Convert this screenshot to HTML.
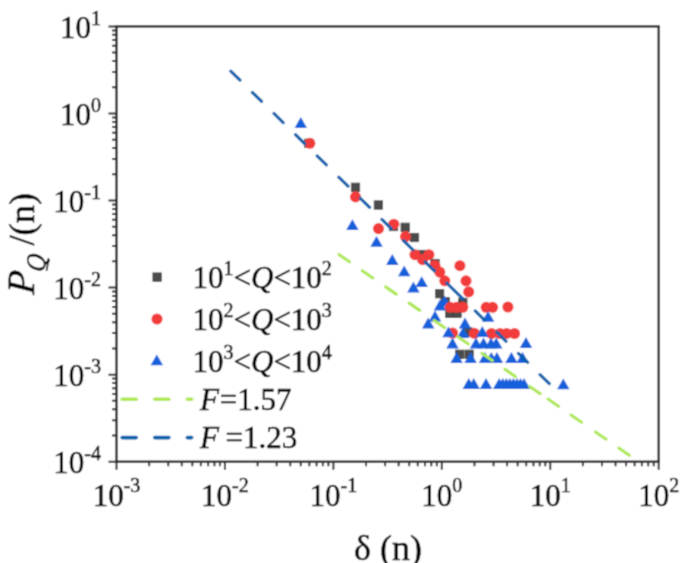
<!DOCTYPE html><html><head><meta charset="utf-8"><style>html,body{margin:0;padding:0;background:#fff;width:685px;height:563px;overflow:hidden}svg{display:block}text{font-family:"Liberation Serif",serif;fill:#000;stroke:#000;stroke-width:0.5px}</style></head><body>
<svg width="685" height="563" viewBox="0 0 685 563"><defs><filter id="bl" x="0" y="0" width="685" height="563" filterUnits="userSpaceOnUse"><feConvolveMatrix order="3" kernelMatrix="1 3 1 3 8 3 1 3 1" divisor="24" edgeMode="none"/></filter></defs><g filter="url(#bl)"><rect width="685" height="563" fill="#fff"/>
<rect x="116.5" y="26.4" width="542.2" height="435.3" fill="none" stroke="#282828" stroke-width="2.4"/>
<path d="M116.50 461.7v8M149.14 461.7v4.5M168.24 461.7v4.5M181.79 461.7v4.5M192.30 461.7v4.5M200.88 461.7v4.5M208.14 461.7v4.5M214.43 461.7v4.5M219.98 461.7v4.5M224.94 461.7v8M257.58 461.7v4.5M276.68 461.7v4.5M290.23 461.7v4.5M300.74 461.7v4.5M309.32 461.7v4.5M316.58 461.7v4.5M322.87 461.7v4.5M328.42 461.7v4.5M333.38 461.7v8M366.02 461.7v4.5M385.12 461.7v4.5M398.67 461.7v4.5M409.18 461.7v4.5M417.76 461.7v4.5M425.02 461.7v4.5M431.31 461.7v4.5M436.86 461.7v4.5M441.82 461.7v8M474.46 461.7v4.5M493.56 461.7v4.5M507.11 461.7v4.5M517.62 461.7v4.5M526.20 461.7v4.5M533.46 461.7v4.5M539.75 461.7v4.5M545.30 461.7v4.5M550.26 461.7v8M582.90 461.7v4.5M602.00 461.7v4.5M615.55 461.7v4.5M626.06 461.7v4.5M634.64 461.7v4.5M641.90 461.7v4.5M648.19 461.7v4.5M653.74 461.7v4.5M658.70 461.7v8M116.5 461.70h-8M116.5 435.49h-4.5M116.5 420.16h-4.5M116.5 409.28h-4.5M116.5 400.85h-4.5M116.5 393.95h-4.5M116.5 388.13h-4.5M116.5 383.08h-4.5M116.5 378.62h-4.5M116.5 374.64h-8M116.5 348.43h-4.5M116.5 333.10h-4.5M116.5 322.22h-4.5M116.5 313.79h-4.5M116.5 306.89h-4.5M116.5 301.07h-4.5M116.5 296.02h-4.5M116.5 291.56h-4.5M116.5 287.58h-8M116.5 261.37h-4.5M116.5 246.04h-4.5M116.5 235.16h-4.5M116.5 226.73h-4.5M116.5 219.83h-4.5M116.5 214.01h-4.5M116.5 208.96h-4.5M116.5 204.50h-4.5M116.5 200.52h-8M116.5 174.31h-4.5M116.5 158.98h-4.5M116.5 148.10h-4.5M116.5 139.67h-4.5M116.5 132.77h-4.5M116.5 126.95h-4.5M116.5 121.90h-4.5M116.5 117.44h-4.5M116.5 113.46h-8M116.5 87.25h-4.5M116.5 71.92h-4.5M116.5 61.04h-4.5M116.5 52.61h-4.5M116.5 45.71h-4.5M116.5 39.89h-4.5M116.5 34.84h-4.5M116.5 30.38h-4.5M116.5 26.40h-8" stroke="#282828" stroke-width="2" fill="none"/>
<text x="101" y="473.3" font-size="31" text-anchor="end">10<tspan font-size="20" dy="-13.2">-4</tspan></text>
<text x="101" y="386.2" font-size="31" text-anchor="end">10<tspan font-size="20" dy="-13.2">-3</tspan></text>
<text x="101" y="299.2" font-size="31" text-anchor="end">10<tspan font-size="20" dy="-13.2">-2</tspan></text>
<text x="101" y="212.1" font-size="31" text-anchor="end">10<tspan font-size="20" dy="-13.2">-1</tspan></text>
<text x="101" y="125.1" font-size="31" text-anchor="end">10<tspan font-size="20" dy="-13.2">0</tspan></text>
<text x="101" y="38.0" font-size="31" text-anchor="end">10<tspan font-size="20" dy="-13.2">1</tspan></text>
<text x="116.5" y="505.6" font-size="31" text-anchor="middle">10<tspan font-size="20" dy="-13.2">-3</tspan></text>
<text x="224.9" y="505.6" font-size="31" text-anchor="middle">10<tspan font-size="20" dy="-13.2">-2</tspan></text>
<text x="333.4" y="505.6" font-size="31" text-anchor="middle">10<tspan font-size="20" dy="-13.2">-1</tspan></text>
<text x="441.8" y="505.6" font-size="31" text-anchor="middle">10<tspan font-size="20" dy="-13.2">0</tspan></text>
<text x="550.3" y="505.6" font-size="31" text-anchor="middle">10<tspan font-size="20" dy="-13.2">1</tspan></text>
<text x="658.7" y="505.6" font-size="31" text-anchor="middle">10<tspan font-size="20" dy="-13.2">2</tspan></text>
<text x="388" y="560" font-size="36" text-anchor="middle">δ (n)</text>
<g transform="translate(34.4,0) rotate(-90)"><text transform="translate(-295,0) skewX(-5)" font-size="38.5" font-style="italic">P</text><text transform="translate(-272.6,10.3) scale(0.9,1) skewX(-8)" font-size="27" font-style="italic">Q</text><text x="-245.6" y="0" font-size="36.5">/(n)</text></g>
<rect x="152.90" y="272.90" width="8.40" height="8.40" fill="#4b4b4b" stroke="#3d3d3d" stroke-width="0.8"/>
<circle cx="157.00" cy="319.00" r="5.55" fill="#f23b3b"/>
<path d="M156.80 354.50L163.05 365.30L150.55 365.30Z" fill="#1560dc"/>
<path d="M122.1 399.3H191.7" stroke="#aee855" stroke-width="3.6" stroke-linecap="round" stroke-dasharray="14.2 18.4" fill="none"/>
<path d="M122.1 437.6H191.7" stroke="#0561ae" stroke-width="3.6" stroke-linecap="round" stroke-dasharray="14.2 18.4" fill="none"/>
<text x="192.5" y="287.8" font-size="31">10<tspan font-size="20" dy="-13">1</tspan><tspan dy="13">&lt;</tspan><tspan font-style="italic">Q</tspan>&lt;10<tspan font-size="20" dy="-13">2</tspan></text>
<text x="192.5" y="329.6" font-size="31">10<tspan font-size="20" dy="-13">2</tspan><tspan dy="13">&lt;</tspan><tspan font-style="italic">Q</tspan>&lt;10<tspan font-size="20" dy="-13">3</tspan></text>
<text x="192.5" y="372.2" font-size="31">10<tspan font-size="20" dy="-13">3</tspan><tspan dy="13">&lt;</tspan><tspan font-style="italic">Q</tspan>&lt;10<tspan font-size="20" dy="-13">4</tspan></text>
<text x="200" y="410.4" font-size="31"><tspan font-style="italic">F</tspan><tspan x="219.8">=1.57</tspan></text>
<text x="200" y="448" font-size="31"><tspan font-style="italic">F</tspan><tspan x="225.5">=1.23</tspan></text>
<rect x="304.60" y="139.10" width="8.40" height="8.40" fill="#4b4b4b" stroke="#3d3d3d" stroke-width="0.8"/>
<rect x="351.30" y="183.10" width="8.40" height="8.40" fill="#4b4b4b" stroke="#3d3d3d" stroke-width="0.8"/>
<rect x="374.20" y="200.80" width="8.40" height="8.40" fill="#4b4b4b" stroke="#3d3d3d" stroke-width="0.8"/>
<rect x="389.30" y="222.30" width="8.40" height="8.40" fill="#4b4b4b" stroke="#3d3d3d" stroke-width="0.8"/>
<rect x="401.00" y="223.10" width="8.40" height="8.40" fill="#4b4b4b" stroke="#3d3d3d" stroke-width="0.8"/>
<rect x="410.30" y="233.30" width="8.40" height="8.40" fill="#4b4b4b" stroke="#3d3d3d" stroke-width="0.8"/>
<rect x="417.50" y="250.30" width="8.40" height="8.40" fill="#4b4b4b" stroke="#3d3d3d" stroke-width="0.8"/>
<rect x="430.80" y="259.30" width="8.40" height="8.40" fill="#4b4b4b" stroke="#3d3d3d" stroke-width="0.8"/>
<rect x="435.40" y="289.50" width="8.40" height="8.40" fill="#4b4b4b" stroke="#3d3d3d" stroke-width="0.8"/>
<rect x="441.00" y="297.50" width="8.40" height="8.40" fill="#4b4b4b" stroke="#3d3d3d" stroke-width="0.8"/>
<rect x="458.60" y="298.20" width="8.40" height="8.40" fill="#4b4b4b" stroke="#3d3d3d" stroke-width="0.8"/>
<rect x="445.60" y="309.20" width="8.40" height="8.40" fill="#4b4b4b" stroke="#3d3d3d" stroke-width="0.8"/>
<rect x="452.80" y="309.20" width="8.40" height="8.40" fill="#4b4b4b" stroke="#3d3d3d" stroke-width="0.8"/>
<rect x="463.80" y="327.80" width="8.40" height="8.40" fill="#4b4b4b" stroke="#3d3d3d" stroke-width="0.8"/>
<rect x="455.40" y="350.10" width="8.40" height="8.40" fill="#4b4b4b" stroke="#3d3d3d" stroke-width="0.8"/>
<rect x="464.90" y="350.10" width="8.40" height="8.40" fill="#4b4b4b" stroke="#3d3d3d" stroke-width="0.8"/>
<circle cx="309.80" cy="143.30" r="5.55" fill="#f23b3b"/>
<circle cx="355.50" cy="196.90" r="5.55" fill="#f23b3b"/>
<circle cx="378.50" cy="228.60" r="5.55" fill="#f23b3b"/>
<circle cx="393.80" cy="224.20" r="5.55" fill="#f23b3b"/>
<circle cx="405.50" cy="236.60" r="5.55" fill="#f23b3b"/>
<circle cx="415.00" cy="254.70" r="5.55" fill="#f23b3b"/>
<circle cx="428.90" cy="254.70" r="5.55" fill="#f23b3b"/>
<circle cx="422.60" cy="259.60" r="5.55" fill="#f23b3b"/>
<circle cx="434.90" cy="265.50" r="5.55" fill="#f23b3b"/>
<circle cx="439.80" cy="272.10" r="5.55" fill="#f23b3b"/>
<circle cx="444.80" cy="280.80" r="5.55" fill="#f23b3b"/>
<circle cx="459.90" cy="265.70" r="5.55" fill="#f23b3b"/>
<circle cx="466.00" cy="280.90" r="5.55" fill="#f23b3b"/>
<circle cx="468.70" cy="291.90" r="5.55" fill="#f23b3b"/>
<circle cx="486.20" cy="307.30" r="5.55" fill="#f23b3b"/>
<circle cx="492.60" cy="307.30" r="5.55" fill="#f23b3b"/>
<circle cx="507.90" cy="307.00" r="5.55" fill="#f23b3b"/>
<circle cx="452.50" cy="333.00" r="5.55" fill="#f23b3b"/>
<circle cx="474.40" cy="333.30" r="5.55" fill="#f23b3b"/>
<circle cx="491.50" cy="333.50" r="5.55" fill="#f23b3b"/>
<circle cx="500.00" cy="333.50" r="5.55" fill="#f23b3b"/>
<circle cx="506.50" cy="333.50" r="5.55" fill="#f23b3b"/>
<circle cx="514.50" cy="333.50" r="5.55" fill="#f23b3b"/>
<path d="M300.80 117.10L307.05 127.90L294.55 127.90Z" fill="#1560dc"/>
<path d="M352.40 219.30L358.65 230.10L346.15 230.10Z" fill="#1560dc"/>
<path d="M376.50 236.00L382.75 246.80L370.25 246.80Z" fill="#1560dc"/>
<path d="M392.30 254.10L398.55 264.90L386.05 264.90Z" fill="#1560dc"/>
<path d="M404.20 265.40L410.45 276.20L397.95 276.20Z" fill="#1560dc"/>
<path d="M421.70 276.30L427.95 287.10L415.45 287.10Z" fill="#1560dc"/>
<path d="M413.40 281.60L419.65 292.40L407.15 292.40Z" fill="#1560dc"/>
<path d="M440.00 299.60L446.25 310.40L433.75 310.40Z" fill="#1560dc"/>
<path d="M444.50 295.60L450.75 306.40L438.25 306.40Z" fill="#1560dc"/>
<path d="M435.00 310.60L441.25 321.40L428.75 321.40Z" fill="#1560dc"/>
<path d="M428.20 317.60L434.45 328.40L421.95 328.40Z" fill="#1560dc"/>
<path d="M448.50 326.40L454.75 337.20L442.25 337.20Z" fill="#1560dc"/>
<path d="M465.00 317.60L471.25 328.40L458.75 328.40Z" fill="#1560dc"/>
<path d="M463.00 327.10L469.25 337.90L456.75 337.90Z" fill="#1560dc"/>
<path d="M482.30 326.10L488.55 336.90L476.05 336.90Z" fill="#1560dc"/>
<path d="M488.10 311.00L494.35 321.80L481.85 321.80Z" fill="#1560dc"/>
<path d="M452.50 337.60L458.75 348.40L446.25 348.40Z" fill="#1560dc"/>
<path d="M476.00 337.60L482.25 348.40L469.75 348.40Z" fill="#1560dc"/>
<path d="M483.50 337.60L489.75 348.40L477.25 348.40Z" fill="#1560dc"/>
<path d="M491.00 337.60L497.25 348.40L484.75 348.40Z" fill="#1560dc"/>
<path d="M496.20 337.60L502.45 348.40L489.95 348.40Z" fill="#1560dc"/>
<path d="M526.00 337.10L532.25 347.90L519.75 347.90Z" fill="#1560dc"/>
<path d="M456.60 352.10L462.85 362.90L450.35 362.90Z" fill="#1560dc"/>
<path d="M470.60 352.10L476.85 362.90L464.35 362.90Z" fill="#1560dc"/>
<path d="M485.00 352.10L491.25 362.90L478.75 362.90Z" fill="#1560dc"/>
<path d="M491.30 352.10L497.55 362.90L485.05 362.90Z" fill="#1560dc"/>
<path d="M496.90 352.10L503.15 362.90L490.65 362.90Z" fill="#1560dc"/>
<path d="M511.40 352.10L517.65 362.90L505.15 362.90Z" fill="#1560dc"/>
<path d="M522.60 352.10L528.85 362.90L516.35 362.90Z" fill="#1560dc"/>
<path d="M468.80 378.10L475.05 388.90L462.55 388.90Z" fill="#1560dc"/>
<path d="M473.70 378.10L479.95 388.90L467.45 388.90Z" fill="#1560dc"/>
<path d="M486.00 378.10L492.25 388.90L479.75 388.90Z" fill="#1560dc"/>
<path d="M499.20 378.10L505.45 388.90L492.95 388.90Z" fill="#1560dc"/>
<path d="M502.80 378.10L509.05 388.90L496.55 388.90Z" fill="#1560dc"/>
<path d="M506.30 378.10L512.55 388.90L500.05 388.90Z" fill="#1560dc"/>
<path d="M509.90 378.10L516.15 388.90L503.65 388.90Z" fill="#1560dc"/>
<path d="M513.40 378.10L519.65 388.90L507.15 388.90Z" fill="#1560dc"/>
<path d="M517.00 378.10L523.25 388.90L510.75 388.90Z" fill="#1560dc"/>
<path d="M520.50 378.10L526.75 388.90L514.25 388.90Z" fill="#1560dc"/>
<path d="M524.00 378.10L530.25 388.90L517.75 388.90Z" fill="#1560dc"/>
<path d="M563.30 378.50L569.55 389.30L557.05 389.30Z" fill="#1560dc"/>
<circle cx="450.30" cy="307.30" r="5.55" fill="#f23b3b"/>
<circle cx="456.50" cy="307.30" r="5.55" fill="#f23b3b"/>
<circle cx="462.80" cy="307.30" r="5.55" fill="#f23b3b"/>
<path d="M48.2 259.5Q47.9 265.5 46.6 270.2" stroke="#111" stroke-width="1.7" stroke-linecap="round" fill="none"/>
<path d="M230.70 71.10L240.00 80.22M252.30 92.29L261.60 101.41M273.90 113.48L283.20 122.60M295.50 134.67L304.80 143.79M317.10 155.86L326.40 164.98M338.70 177.05L348.00 186.17M360.30 198.24L369.60 207.36M381.90 219.43L391.20 228.55M403.50 240.62L412.80 249.74M425.10 261.81L434.40 270.93M446.70 283.00L456.00 292.12M453.60 289.76L462.90 298.89M475.20 310.95L484.50 320.08M496.80 332.14L506.10 341.27M518.40 353.33L527.70 362.46M540.00 374.52L549.30 383.65" stroke="#0561ae" stroke-width="3.1" stroke-linecap="round" fill="none"/>
<path d="M338.90 254.50L349.40 261.76M362.30 270.68L372.80 277.94M385.70 286.86L396.20 294.12M409.20 303.11L419.70 310.37M434.20 320.40L444.70 327.66M457.80 336.72L468.30 343.98M481.80 353.32L492.30 360.58M504.90 369.29L515.40 376.55M529.70 386.44L540.20 393.70M548.00 399.09L558.50 406.35M571.00 415.00L581.50 422.26M595.50 431.94L606.00 439.20M618.80 448.05L629.30 455.31" stroke="#aee855" stroke-width="3.1" stroke-linecap="round" fill="none"/>
</g></svg></body></html>
